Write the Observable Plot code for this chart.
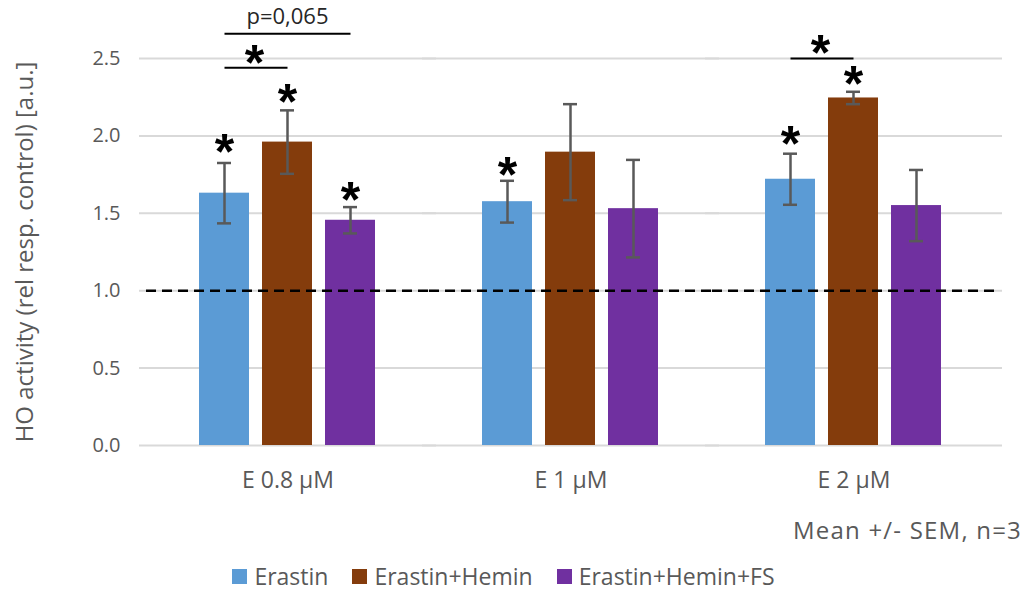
<!DOCTYPE html>
<html><head><meta charset="utf-8">
<script src="https://cdn.jsdelivr.net/npm/d3@7"></script>
<script src="https://cdn.jsdelivr.net/npm/@observablehq/plot@0.6"></script>
<style>
body{margin:0;background:#fff;font-family:"Open Sans",Lato,sans-serif;}
#wrap{width:1024px;height:589px;position:relative;background:#fff}
#cap{position:absolute;top:518px;right:2px;font-size:24px;line-height:1;letter-spacing:1.2px;color:#595959;white-space:nowrap}
#legend{position:absolute;top:566px;left:0;width:1024px;height:21px;display:flex;justify-content:center;font-size:23px;line-height:21px;color:#595959;padding-right:17px;box-sizing:border-box}
.item{display:flex;align-items:center;margin:0 12px}
.sw{width:15px;height:15px;margin-right:7px}
</style></head><body><div id="wrap"><div id="chart"></div><div id="cap"></div><div id="legend"></div></div>
<script>
const groups = ["E 0.8 µM", "E 1 µM", "E 2 µM"];
const series = ["Erastin", "Erastin+Hemin", "Erastin+Hemin+FS"];
const colors = ["#5B9BD5", "#843C0C", "#7030A0"];
const means = [[1.63, 1.96, 1.455], [1.575, 1.895, 1.53], [1.72, 2.245, 1.55]];
const sems = [[0.195, 0.205, 0.085], [0.135, 0.31, 0.315], [0.165, 0.04, 0.23]];
const yTicks = [0, 0.5, 1.0, 1.5, 2.0, 2.5];
const referenceLevel = [1.0];
const yTitle = "HO activity (rel resp. control) [a.u.]";
const caption = "Mean +/- SEM, n=3";
// significance stars above bars: group, series, y (data units)
const starGroups = ["E 0.8 µM", "E 0.8 µM", "E 0.8 µM", "E 1 µM", "E 2 µM", "E 2 µM"];
const starSeries = ["Erastin", "Erastin+Hemin", "Erastin+Hemin+FS", "Erastin", "Erastin", "Erastin+Hemin"];
const starY = [1.95, 2.27, 1.635, 1.80, 2.0, 2.39];
// stars above comparison brackets (drawn between the first two bars)
const bracketStarGroups = ["E 0.8 µM", "E 2 µM"];
const bracketStarY = [2.52, 2.585];
// comparison brackets
const bracketGroups = ["E 0.8 µM", "E 0.8 µM", "E 2 µM"];
const bracketFrom = ["Erastin", "Erastin", "Erastin"];
const bracketTo = ["Erastin+Hemin", "Erastin+Hemin+FS", "Erastin+Hemin"];
const bracketY = [2.44, 2.66, 2.5];
const pText = ["p=0,065"];
const pGroup = ["E 0.8 µM"];
const pSeries = ["Erastin+Hemin"];
const pY = [2.77];

const bars = [];
groups.forEach((g, i) => series.forEach((s, j) => bars.push({group: g, series: s, mean: means[i][j], lo: means[i][j] - sems[i][j], hi: means[i][j] + sems[i][j]})));
const stars = starGroups.map((g, i) => ({group: g, series: starSeries[i], y: starY[i]}));
const bracketStars = bracketStarGroups.map((g, i) => ({group: g, series: series[1], y: bracketStarY[i]}));
const brackets = bracketGroups.map((g, i) => ({group: g, from: bracketFrom[i], to: bracketTo[i], y: bracketY[i]}));
const ptexts = pText.map((t, i) => ({text: t, group: pGroup[i], series: pSeries[i], y: pY[i]}));

const starStyle = {text: d => "*", fill: "#000", fontSize: 50, fontWeight: "bold", fontFamily: "'Liberation Sans', Arial, sans-serif", dy: 9};

const chart = Plot.plot({
  width: 1024, height: 505,
  marginLeft: 139, marginRight: 22, marginTop: 58, marginBottom: 60,
  style: {fontFamily: "'Open Sans', Lato, sans-serif", fontSize: "20px", color: "#595959", background: "#fff", overflow: "visible"},
  fx: {domain: groups, paddingInner: 0.332, paddingOuter: 0.19, label: null},
  x: {domain: series, paddingInner: 0.2, paddingOuter: 0.1, axis: null},
  y: {domain: [0, 2.5]},
  color: {domain: series, range: colors},
  marks: [
    Plot.ruleY(yTicks, {y: d => d, stroke: "#d9d9d9", strokeWidth: 2, insetLeft: -54, insetRight: -54}),
    Plot.axisY({ticks: yTicks, tickFormat: d3.format(".1f"), tickSize: 0, tickPadding: 73, fontSize: 20, fill: "#595959", label: null}),
    Plot.axisY({ticks: [], tickSize: 0, fontSize: 24, fill: "#595959",
      label: yTitle, labelAnchor: "center", labelOffset: 178, labelArrow: "none"}),
    Plot.axisFx({anchor: "bottom", tickSize: 0, tickPadding: 26, fontSize: 23, fill: "#595959", label: null}),
    Plot.barY(bars, {fx: "group", x: "series", y: "mean", fill: "series"}),
    Plot.ruleX(bars, {fx: "group", x: "series", y1: "lo", y2: "hi", stroke: "#595959", strokeWidth: 2.5}),
    Plot.tickY(bars, {fx: "group", x: "series", y: "lo", stroke: "#595959", strokeWidth: 2.5, insetLeft: 18, insetRight: 18}),
    Plot.tickY(bars, {fx: "group", x: "series", y: "hi", stroke: "#595959", strokeWidth: 2.5, insetLeft: 18, insetRight: 18}),
    Plot.ruleY(referenceLevel, {y: d => d, stroke: "#000", strokeWidth: 2.5, strokeDasharray: "10,6", insetLeft: -47, insetRight: -47}),
    Plot.link(brackets, {fx: "group", x1: "from", x2: "to", y1: "y", y2: "y", stroke: "#000", strokeWidth: 2}),
    Plot.text(stars, {fx: "group", x: "series", y: "y", ...starStyle}),
    Plot.text(bracketStars, {fx: "group", x: "series", y: "y", ...starStyle, dx: -33}),
    Plot.text(ptexts, {fx: "group", x: "series", y: "y", text: "text", fill: "#262626", fontSize: 22})
  ]
});
document.getElementById("chart").appendChild(chart);
document.getElementById("cap").textContent = caption;
const leg = document.getElementById("legend");
series.forEach((s, i) => {
  const it = document.createElement("div"); it.className = "item";
  const sw = document.createElement("span"); sw.className = "sw"; sw.style.background = colors[i];
  const tx = document.createElement("span"); tx.textContent = s;
  it.appendChild(sw); it.appendChild(tx); leg.appendChild(it);
});
</script></body></html>
